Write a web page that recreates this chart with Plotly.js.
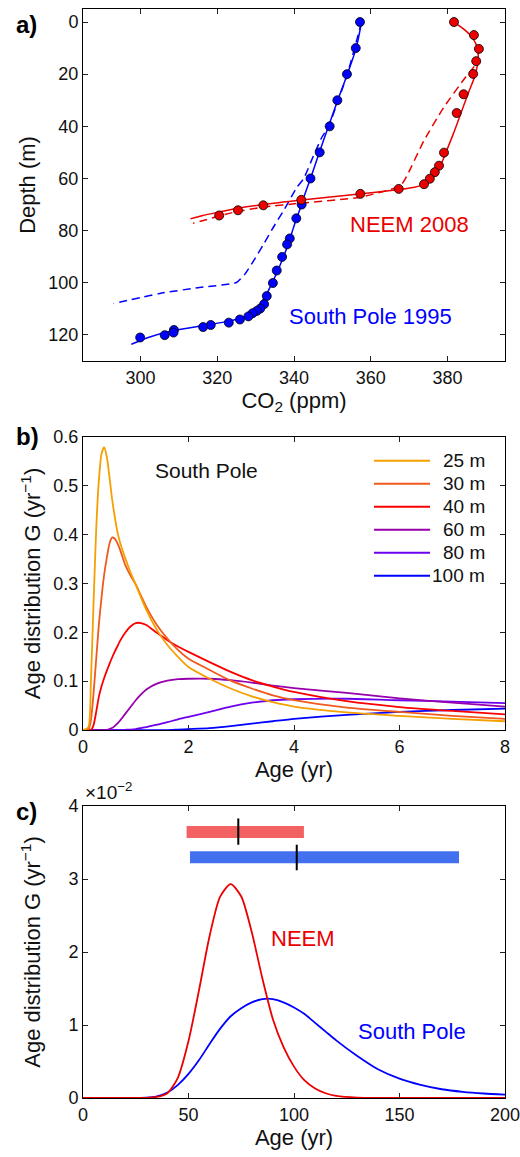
<!DOCTYPE html>
<html>
<head>
<meta charset="utf-8">
<script src="https://cdn.plot.ly/plotly-3.0.1.min.js"></script>
<style>html,body{margin:0;padding:0;background:#fff;}#chart{width:520px;height:1157px;}</style>
</head>
<body>
<div id="chart"></div>
<script>
// ---------- Panel a: firn air CO2 profiles ----------
const spDataCO2   = [357.2, 356.1, 353.8, 351.3, 349.3, 346.7, 344.3, 342.0, 340.6, 338.9, 338.2, 336.9, 335.5, 334.5, 332.9, 332.2, 331.2, 330.3, 329.2, 328.1, 325.9, 323.0, 318.3, 316.3, 308.7, 308.6, 306.3, 299.9];
const spDataDepth = [0, 10, 20, 30, 40, 50, 60, 70, 75.3, 83, 85.3, 90.1, 95.3, 100.1, 105.1, 108.2, 109.9, 110.8, 111.7, 112.9, 114.1, 115.3, 116.2, 117, 118.1, 119.1, 120.1, 121];
const spModelCO2   = [357.6, 356.2, 353.9, 351.4, 349.0, 346.6, 344.3, 342.6, 341.5, 340.5, 339.4, 338.3, 337.0, 335.6, 334.3, 333.0, 331.8, 330.2, 328.5, 326.0, 322.0, 316.0, 308.0, 302.0, 297.6];
const spModelDepth = [0, 10, 20, 30, 40, 50, 60, 67, 72, 76, 81, 86, 91, 96, 100, 104, 107, 110, 112, 113.5, 115, 116.5, 118.5, 121, 123.6];
const spDashCO2   = [357.6, 353.9, 349.0, 347.3, 345.1, 342.5, 340.8, 337.3, 334.5, 332.0, 329.5, 327.2, 325.0, 315.4, 305.0, 293.0];
const spDashDepth = [0, 20, 40, 44.1, 51.2, 60.1, 63.3, 72.3, 79, 85.4, 91.5, 96.7, 99.9, 101.8, 104.1, 108];

const neDataCO2   = [381.7, 386.9, 388.2, 387.5, 386.7, 384.2, 382.4, 379.1, 377.8, 376.7, 375.4, 373.9, 367.3, 357.3, 341.9, 332.0, 325.4, 320.5];
const neDataDepth = [0, 5, 10.3, 15, 19.9, 27.7, 34.9, 50.1, 55.1, 57.6, 60.1, 62.2, 64, 65.9, 68.2, 70.3, 72.2, 74.2];
const neModelCO2   = [381.7, 384.5, 386.5, 387.8, 388.0, 387.3, 385.5, 383.5, 381.5, 379.6, 378.2, 376.5, 374.5, 371.0, 367.0, 357.0, 342.0, 332.0, 325.0, 320.0, 316.0, 313.0];
const neModelDepth = [0, 3, 6, 10, 14, 20, 27, 35, 43, 50, 55, 59, 62, 63.5, 64.3, 66, 68.3, 70, 71.5, 73, 74.3, 75.5];
const neDashCO2   = [387.0, 384.8, 379.1, 373.9, 369.5, 367.8, 357.3, 341.6, 332.0, 324.2, 313.7];
const neDashDepth = [17, 21, 32.6, 45.4, 58.8, 62.7, 67.2, 69.5, 71.0, 73.0, 77.2];

// ---------- Panel b: age distributions at South Pole ----------
const bAge = [0, 0.1, 0.15, 0.2, 0.25, 0.3, 0.35, 0.4, 0.45, 0.5, 0.55, 0.6, 0.65, 0.7, 0.8, 0.9, 1.0, 1.1, 1.2, 1.4, 1.6, 1.8, 2.0, 2.4, 2.8, 3.2, 3.6, 4.0, 5.0, 6.0, 7.0, 8.0];
const g25  = [0, 0.005, 0.10, 0.26, 0.41, 0.51, 0.565, 0.579, 0.56, 0.52, 0.474, 0.438, 0.407, 0.385, 0.352, 0.323, 0.298, 0.271, 0.246, 0.205, 0.174, 0.150, 0.129, 0.105, 0.085, 0.069, 0.057, 0.048, 0.036, 0.029, 0.023, 0.018];
const g30  = [0, 0, 0.02, 0.075, 0.145, 0.215, 0.27, 0.317, 0.352, 0.381, 0.394, 0.392, 0.383, 0.37, 0.338, 0.316, 0.298, 0.275, 0.252, 0.215, 0.187, 0.164, 0.146, 0.123, 0.101, 0.085, 0.071, 0.061, 0.046, 0.037, 0.029, 0.023];
const g40  = [0, 0, 0, 0.01, 0.037, 0.068, 0.089, 0.106, 0.121, 0.135, 0.148, 0.160, 0.171, 0.182, 0.199, 0.212, 0.219, 0.219, 0.215, 0.199, 0.184, 0.171, 0.160, 0.139, 0.119, 0.102, 0.089, 0.078, 0.059, 0.047, 0.039, 0.032];
const g60  = [0, 0, 0, 0, 0, 0, 0, 0, 0, 0.002, 0.004, 0.008, 0.013, 0.019, 0.033, 0.047, 0.061, 0.073, 0.083, 0.095, 0.101, 0.104, 0.105, 0.105, 0.102, 0.097, 0.091, 0.086, 0.076, 0.065, 0.056, 0.048];
const g80  = [0, 0, 0, 0, 0, 0, 0, 0, 0, 0, 0, 0, 0, 0, 0.0005, 0.001, 0.002, 0.004, 0.006, 0.011, 0.016, 0.022, 0.027, 0.037, 0.048, 0.056, 0.061, 0.063, 0.064, 0.061, 0.058, 0.055];
const g100 = [0, 0, 0, 0, 0, 0, 0, 0, 0, 0, 0, 0, 0, 0, 0, 0, 0, 0, 0, 0, 0, 0.001, 0.002, 0.004, 0.008, 0.013, 0.018, 0.023, 0.031, 0.037, 0.041, 0.044];
const bLabels = ['25 m', '30 m', '40 m', '60 m', '80 m', '100 m'];
const bColors = ['rgb(245,160,0)', 'rgb(240,90,30)', 'rgb(250,0,0)', 'rgb(150,0,170)', 'rgb(110,0,240)', 'rgb(0,0,255)'];

// ---------- Panel c: bottom-of-firn age distributions (units of 1e-2 yr^-1) ----------
const cAge = [0, 20, 30, 35, 40, 45, 50, 55, 60, 65, 70, 75, 80, 85, 90, 95, 100, 105, 110, 115, 120, 130, 140, 150, 160, 170, 180, 190, 200];
const cNeem = [0, 0, 0.003, 0.015, 0.065, 0.28, 0.78, 1.48, 2.22, 2.76, 2.93, 2.76, 2.27, 1.64, 1.08, 0.70, 0.43, 0.24, 0.13, 0.065, 0.03, 0.006, 0.001, 0, 0, 0, 0, 0, 0];
const cSouthPole = [0, 0, 0.004, 0.022, 0.075, 0.18, 0.33, 0.52, 0.74, 0.95, 1.12, 1.23, 1.31, 1.355, 1.355, 1.31, 1.24, 1.15, 1.03, 0.91, 0.79, 0.575, 0.39, 0.265, 0.18, 0.12, 0.085, 0.062, 0.045];
const cNeemRange = [49.1, 104.7];   const cNeemLevel = 3.645;
const cNeemMean = 73.6;             const cNeemMeanSpan = [3.47, 3.83];
const cSPRange = [50.7, 178.2];     const cSPLevel = 3.30;
const cSPMean = 101.3;              const cSPMeanSpan = [3.12, 3.47];

const FONT = 'Liberation Sans, Arial, Helvetica, sans-serif';
const BLUE = 'rgb(0,0,255)', RED = 'rgb(235,0,0)';

const traces = [];
// panel a
traces.push({x: spDashCO2, y: spDashDepth, xaxis:'x', yaxis:'y', mode:'lines', line:{color:BLUE, width:1.5, dash:'8px,5px', shape:'spline', smoothing:0.5}});
traces.push({x: neDashCO2, y: neDashDepth, xaxis:'x', yaxis:'y', mode:'lines', line:{color:RED, width:1.5, dash:'8px,5px', shape:'spline', smoothing:0.5}});
traces.push({x: spModelCO2, y: spModelDepth, xaxis:'x', yaxis:'y', mode:'lines', line:{color:BLUE, width:1.5, shape:'spline', smoothing:0.8}});
traces.push({x: neModelCO2, y: neModelDepth, xaxis:'x', yaxis:'y', mode:'lines', line:{color:RED, width:1.5, shape:'spline', smoothing:0.8}});
traces.push({x: spDataCO2, y: spDataDepth, xaxis:'x', yaxis:'y', mode:'markers', marker:{color:BLUE, size:9, line:{color:'#000', width:0.8}}});
traces.push({x: neDataCO2, y: neDataDepth, xaxis:'x', yaxis:'y', mode:'markers', marker:{color:RED, size:9, line:{color:'#000', width:0.8}}});
// panel b
const bSeries = [g25, g30, g40, g60, g80, g100];
for (let i = bSeries.length - 1; i >= 0; i--) {
  traces.push({x: bAge, y: bSeries[i], xaxis:'x2', yaxis:'y2', mode:'lines', name: bLabels[i], line:{color:bColors[i], width:1.8, shape:'spline', smoothing:0.6}});
}
// panel c
traces.push({x: cAge, y: cSouthPole, xaxis:'x3', yaxis:'y3', mode:'lines', line:{color:BLUE, width:1.8, shape:'spline', smoothing:0.7}});
traces.push({x: cAge, y: cNeem, xaxis:'x3', yaxis:'y3', mode:'lines', line:{color:RED, width:1.8, shape:'spline', smoothing:0.7}});
traces.push({x: cNeemRange, y: [cNeemLevel, cNeemLevel], xaxis:'x3', yaxis:'y3', mode:'lines', line:{color:'rgb(242,98,98)', width:12}});
traces.push({x: cSPRange, y: [cSPLevel, cSPLevel], xaxis:'x3', yaxis:'y3', mode:'lines', line:{color:'rgb(66,112,238)', width:12}});
traces.push({x: [cNeemMean, cNeemMean], y: cNeemMeanSpan, xaxis:'x3', yaxis:'y3', mode:'lines', line:{color:'#000', width:2}});
traces.push({x: [cSPMean, cSPMean], y: cSPMeanSpan, xaxis:'x3', yaxis:'y3', mode:'lines', line:{color:'#000', width:2}});

function ax(extra) {
  return Object.assign({
    showline:true, linecolor:'#000', linewidth:1, mirror:'ticks',
    ticks:'inside', ticklen:5, tickcolor:'#222', tickwidth:1,
    showgrid:false, zeroline:false, ticklabeloverflow:'allow',
    tickfont:{family:FONT, size:18, color:'#111'},
  }, extra);
}
const titleFont = {family:FONT, size:22, color:'#111'};

const layout = {
  width:520, height:1157,
  margin:{l:83, r:15, t:9, b:59},
  paper_bgcolor:'#fff', plot_bgcolor:'#fff',
  showlegend:false,
  font:{family:FONT, color:'#111'},
  xaxis: ax({anchor:'y', domain:[0,1], range:[285,395], tickvals:[300,320,340,360,380],
    title:{text:'CO<sub>2</sub> (ppm)', font:titleFont, standoff:4}}),
  yaxis: ax({anchor:'x', domain:[0.6768,1], range:[130,-5], tickvals:[0,20,40,60,80,100,120],
    title:{text:'Depth (m)', font:titleFont, standoff:6}}),
  xaxis2: ax({anchor:'y2', domain:[0,1], range:[0,8], tickvals:[0,2,4,6,8],
    title:{text:'Age (yr)', font:titleFont, standoff:4}}),
  yaxis2: ax({anchor:'x2', domain:[0.3379,0.6070], range:[0,0.6], tickvals:[0,0.1,0.2,0.3,0.4,0.5,0.6],
    ticktext:['0','0.1','0.2','0.3','0.4','0.5','0.6'],
    title:{text:'Age distribution G (yr<sup>−1</sup>)', font:titleFont, standoff:6}}),
  xaxis3: ax({anchor:'y3', domain:[0,1], range:[0,200], tickvals:[0,50,100,150,200],
    title:{text:'Age (yr)', font:titleFont, standoff:4}}),
  yaxis3: ax({anchor:'x3', domain:[0,0.2681], range:[0,4], tickvals:[0,1,2,3,4],
    title:{text:'Age distribution G (yr<sup>−1</sup>)', font:titleFont, standoff:21}}),
  annotations:[
    {text:'<b>a)</b>', xref:'paper', yref:'paper', x:-0.1635, y:0.9862, xanchor:'left', yanchor:'middle', showarrow:false, font:{family:FONT, size:24, color:'#000'}},
    {text:'<b>b)</b>', xref:'paper', yref:'paper', x:-0.1635, y:0.607, xanchor:'left', yanchor:'middle', showarrow:false, font:{family:FONT, size:24, color:'#000'}},
    {text:'<b>c)</b>', xref:'paper', yref:'paper', x:-0.1635, y:0.2635, xanchor:'left', yanchor:'middle', showarrow:false, font:{family:FONT, size:24, color:'#000'}},
    {text:'NEEM 2008', xref:'x', yref:'y', x:370, y:77.5, xanchor:'center', yanchor:'middle', showarrow:false, font:{family:FONT, size:22, color:RED}},
    {text:'South Pole 1995', xref:'x', yref:'y', x:360, y:113, xanchor:'center', yanchor:'middle', showarrow:false, font:{family:FONT, size:22, color:BLUE}},
    {text:'South Pole', xref:'x2', yref:'y2', x:2.345, y:0.531, xanchor:'center', yanchor:'middle', showarrow:false, font:{family:FONT, size:21, color:'#111'}},
    {text:'NEEM', xref:'x3', yref:'y3', x:104.4, y:2.18, xanchor:'center', yanchor:'middle', showarrow:false, font:{family:FONT, size:22, color:RED}},
    {text:'South Pole', xref:'x3', yref:'y3', x:155.8, y:0.91, xanchor:'center', yanchor:'middle', showarrow:false, font:{family:FONT, size:22, color:BLUE}},
    {text:'×10<sup>−2</sup>', xref:'paper', yref:'paper', x:0.0, y:0.2818, xanchor:'left', yanchor:'middle', showarrow:false, font:{family:FONT, size:19, color:'#111'}},
  ],
  shapes:[]
};
// manual legend for panel b (paper coordinates)
const legRows = [0.5852, 0.5641, 0.5430, 0.5219, 0.5007, 0.4796];
bLabels.forEach((lab, i) => {
  layout.shapes.push({type:'line', xref:'paper', yref:'paper', x0:0.6896, x1:0.8223, y0:legRows[i], y1:legRows[i], line:{color:bColors[i], width:2}});
  layout.annotations.push({text:lab, xref:'paper', yref:'paper', x:0.9566, y:legRows[i], xanchor:'right', yanchor:'middle', showarrow:false, font:{family:FONT, size:19, color:'#111'}});
});

Plotly.newPlot('chart', traces, layout, {displayModeBar:false, staticPlot:true});
</script>
</body>
</html>
